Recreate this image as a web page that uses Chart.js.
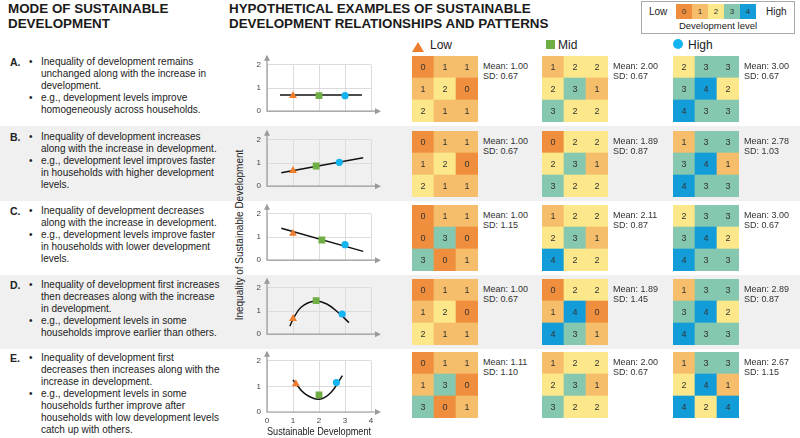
<!DOCTYPE html>
<html>
<head>
<meta charset="utf-8">
<script src="https://cdn.jsdelivr.net/npm/chart.js@4.4.1/dist/chart.umd.min.js"></script>
<style>
  body { margin: 0; width: 800px; height: 438px; position: relative; overflow: hidden; background: #fff;
         font-family: Arial, "Liberation Sans", sans-serif; color: #222; }
  .abs { position: absolute; }
  .band { position: absolute; left: 0; width: 800px; background: #f0f0f0; }
  .title { position: absolute; top: 1px; font-weight: bold; font-size: 13.4px; line-height: 15px; color: #1a1a1a; }
  .desc { position: absolute; font-size: 10px; line-height: 12px; white-space: nowrap; }
  .stat { position: absolute; font-size: 9px; line-height: 10px; color: #333; white-space: nowrap; }
  canvas { position: absolute; }
</style>
</head>
<body>
<div class="band" style="top:126px;height:75px"></div>
<div class="band" style="top:275px;height:74px"></div>

<div class="title" style="left:8px">MODE OF SUSTAINABLE<br>DEVELOPMENT</div>
<div class="title" style="left:229px">HYPOTHETICAL EXAMPLES OF SUSTAINABLE<br>DEVELOPMENT RELATIONSHIPS AND PATTERNS</div>

<div id="legendBox" class="abs" style="left:641px;top:1px;width:152px;height:31px;border:1px solid #aaa;background:#fff"></div>

<div class="abs" style="left:0;top:0" id="holder"></div>

<script>
// development level colours 0..4
var levelColors = ['#ef8f3d', '#f6be6a', '#fce88b', '#86c7af', '#139dd8'];
var orange = '#ef7d2e', green = '#6fae45', blue = '#15b4f0';

var modeLabels = ['A.', 'B.', 'C.', 'D.', 'E.'];
var modeText = [
  [['Inequality of development remains', 'unchanged along with the increase in', 'development.'],
   ['e.g., development levels improve', 'homogeneously across households.']],
  [['Inequality of development increases', 'along with the increase in development.'],
   ['e.g., development level improves faster', 'in households with higher development', 'levels.']],
  [['Inequality of development decreases', 'along with the increase in development.'],
   ['e.g., development levels improve faster', 'in households with lower development', 'levels.']],
  [['Inequality of development first increases', 'then decreases along with the increase', 'in development.'],
   ['e.g., development levels in some', 'households improve earlier than others.']],
  [['Inequality of development first', 'decreases then increases along with the', 'increase in development.'],
   ['e.g., development levels in some', 'households further improve after', 'households with low development levels', 'catch up with others.']]
];

// 3x3 household grids, row-major, top row first
var lowGrids = [
  [0,1,1, 1,2,0, 2,1,1],
  [0,1,1, 1,2,0, 2,1,1],
  [0,1,1, 0,3,0, 3,0,1],
  [0,1,1, 1,2,0, 2,1,1],
  [0,1,1, 1,3,0, 3,0,1]
];
var midGrids = [
  [1,2,2, 2,3,1, 3,2,2],
  [0,2,2, 2,3,1, 3,2,2],
  [1,2,2, 2,3,1, 4,2,2],
  [0,2,2, 1,4,0, 4,3,1],
  [1,2,2, 2,3,1, 3,2,2]
];
var highGrids = [
  [2,3,3, 3,4,2, 4,3,3],
  [1,3,3, 3,4,1, 4,3,3],
  [2,3,3, 3,4,2, 4,3,3],
  [1,3,3, 3,4,2, 4,3,3],
  [1,3,3, 2,4,1, 4,2,4]
];

var lowMean = [1.00, 1.00, 1.00, 1.00, 1.11];
var lowSd = [0.67, 0.67, 1.15, 0.67, 1.10];
var midMean = [2.00, 1.89, 2.11, 1.89, 2.00];
var midSd = [0.67, 0.87, 0.87, 1.45, 0.67];
var highMean = [3.00, 2.78, 3.00, 2.89, 2.67];
var highSd = [0.67, 1.03, 0.67, 0.87, 1.15];

// trend lines
var trendX = [
  [0.5, 3.65],
  [0.55, 3.7],
  [0.55, 3.7],
  [0.88, 1.0, 1.3, 1.8, 2.3, 2.8, 3.15],
  [1.0, 1.45, 2.0, 2.45, 2.9]
];
var trendY = [
  [0.7, 0.7],
  [0.58, 1.23],
  [1.38, 0.38],
  [0.35, 0.64, 1.15, 1.42, 1.3, 0.87, 0.5],
  [1.25, 0.72, 0.5, 0.75, 1.42]
];

var xTicks = [0, 1, 2, 3, 4];
var yTicks = [0, 1, 2];

var rowTops = [56, 131, 205, 279, 352];
var gridLeft = [412, 542, 673];

var holder = document.getElementById('holder');

function addDiv(cls, style, html) {
  var d = document.createElement('div');
  d.className = cls;
  d.setAttribute('style', style);
  d.innerHTML = html;
  holder.appendChild(d);
  return d;
}

// legend box
addDiv('abs', 'left:649px;top:6px;font-size:10px;line-height:12px', 'Low');
addDiv('abs', 'left:766px;top:6px;font-size:10px;line-height:12px', 'High');
levelColors.forEach(function (c, i) {
  addDiv('abs', 'left:' + (676 + i * 16) + 'px;top:4px;width:16px;height:15px;background:' + c +
    ';font-size:8px;line-height:15px;text-align:center;color:#333', String(i));
});
addDiv('abs', 'left:642px;top:20px;width:152px;text-align:center;font-size:9.5px;line-height:12px', 'Development level');

// series headers
addDiv('abs', 'left:412px;top:39px;width:12px;height:11px',
  '<svg width="12" height="11"><polygon points="6,0 12,10 0,10" fill="' + orange + '"/></svg>');
addDiv('abs', 'left:430px;top:38px;font-size:12px;line-height:14px', 'Low');
addDiv('abs', 'left:546px;top:40px;width:9px;height:9px;background:' + green, '');
addDiv('abs', 'left:558px;top:38px;font-size:12px;line-height:14px', 'Mid');
addDiv('abs', 'left:673px;top:39px;width:10px;height:10px;border-radius:50%;background:' + blue, '');
addDiv('abs', 'left:688px;top:38px;font-size:12px;line-height:14px', 'High');

// y title
addDiv('abs', 'left:150px;top:229px;width:180px;text-align:center;font-size:10px;line-height:12px;transform:rotate(-90deg);transform-origin:90px 6px',
  'Inequality of Sustainable Development');

var cellLabels = {
  id: 'cellLabels',
  afterDatasetsDraw: function (chart) {
    var ctx = chart.ctx;
    ctx.save();
    ctx.font = '9px Arial, "Liberation Sans", sans-serif';
    ctx.fillStyle = '#333';
    ctx.textAlign = 'center';
    ctx.textBaseline = 'middle';
    chart.data.datasets.forEach(function (ds, i) {
      chart.getDatasetMeta(i).data.forEach(function (el, j) {
        ctx.fillText(String(ds.levels[j]), el.x, (el.y + el.base) / 2 + 0.5);
      });
    });
    ctx.restore();
  }
};

var arrowAxes = {
  id: 'arrowAxes',
  beforeDatasetsDraw: function (chart) {
    var a = chart.chartArea, ctx = chart.ctx;
    ctx.save();
    ctx.strokeStyle = '#9a9a9a';
    ctx.fillStyle = '#9a9a9a';
    ctx.lineWidth = 1.2;
    ctx.beginPath();
    ctx.moveTo(a.left, a.top - 5);
    ctx.lineTo(a.left, a.bottom);
    ctx.lineTo(a.right + 4, a.bottom);
    ctx.stroke();
    ctx.beginPath();
    ctx.moveTo(a.left, a.top - 10);
    ctx.lineTo(a.left - 3, a.top - 4);
    ctx.lineTo(a.left + 3, a.top - 4);
    ctx.fill();
    ctx.beginPath();
    ctx.moveTo(a.right + 10, a.bottom);
    ctx.lineTo(a.right + 4, a.bottom - 3);
    ctx.lineTo(a.right + 4, a.bottom + 3);
    ctx.fill();
    ctx.restore();
  }
};

function makeCanvas(left, top, w, h) {
  var c = document.createElement('canvas');
  c.width = w; c.height = h;
  c.style.left = left + 'px'; c.style.top = top + 'px';
  c.style.width = w + 'px'; c.style.height = h + 'px';
  holder.appendChild(c);
  return c;
}

function makeGrid(left, top, vals) {
  var c = makeCanvas(left, top, 66, 66);
  var rows = [vals.slice(0, 3), vals.slice(3, 6), vals.slice(6, 9)];
  var datasets = rows.slice().reverse().map(function (r) {
    return {
      data: [1, 1, 1],
      levels: r,
      backgroundColor: r.map(function (v) { return levelColors[v]; }),
      borderWidth: 0,
      barPercentage: 1,
      categoryPercentage: 1
    };
  });
  new Chart(c.getContext('2d'), {
    type: 'bar',
    data: { labels: ['1', '2', '3'], datasets: datasets },
    options: {
      responsive: false,
      animation: false,
      events: [],
      layout: { padding: 0 },
      plugins: { legend: { display: false }, tooltip: { enabled: false } },
      scales: {
        x: { display: false, stacked: true },
        y: { display: false, stacked: true, min: 0, max: 3 }
      }
    },
    plugins: [cellLabels]
  });
}

function makeTrend(r) {
  var last = r === 4;
  var top = rowTops[r] + 8 - 10;
  var c = makeCanvas(250, top, 136, last ? 88 : 68);
  var line = trendX[r].map(function (x, i) { return { x: x, y: trendY[r][i] }; });
  new Chart(c.getContext('2d'), {
    type: 'scatter',
    data: {
      datasets: [
        { data: line, showLine: true, pointRadius: 0, borderColor: '#111', borderWidth: 1.5,
          tension: line.length > 2 ? 0.4 : 0, order: 2 },
        { data: [{ x: lowMean[r], y: lowSd[r] }], pointStyle: 'triangle', pointRadius: 4.6,
          backgroundColor: orange, borderColor: orange, borderWidth: 0, order: 1 },
        { data: [{ x: midMean[r], y: midSd[r] }], pointStyle: 'rect', pointRadius: 4.8,
          backgroundColor: green, borderColor: green, borderWidth: 0, order: 1 },
        { data: [{ x: highMean[r], y: highSd[r] }], pointStyle: 'circle', pointRadius: 3.6,
          backgroundColor: blue, borderColor: blue, borderWidth: 0, order: 1 }
      ]
    },
    options: {
      responsive: false,
      animation: false,
      events: [],
      layout: { padding: { top: 10, right: 15, left: 0, bottom: 0 } },
      plugins: { legend: { display: false }, tooltip: { enabled: false } },
      scales: {
        x: {
          type: 'linear', min: xTicks[0], max: xTicks[xTicks.length - 1],
          afterBuildTicks: function (s) { s.ticks = xTicks.map(function (v) { return { value: v }; }); },
          ticks: { display: last, font: { size: 8 }, color: '#444', padding: 4 },
          grid: { color: '#dcdcdc', drawTicks: false },
          border: { display: false },
          title: { display: last, text: 'Sustainable Development', font: { size: 10 }, color: '#222', padding: { top: 3, bottom: 0 } },
          afterFit: function (s) { s.height = last ? 26 : 6; }
        },
        y: {
          min: yTicks[0], max: yTicks[yTicks.length - 1],
          afterBuildTicks: function (s) { s.ticks = yTicks.map(function (v) { return { value: v }; }); },
          ticks: { font: { size: 8 }, color: '#444', padding: 6 },
          grid: { color: '#dcdcdc', drawTicks: false },
          border: { display: false },
          afterFit: function (s) { s.width = 17; }
        }
      }
    },
    plugins: [arrowAxes]
  });
}

for (var r = 0; r < 5; r++) {
  var t = rowTops[r];
  addDiv('desc', 'left:10px;top:' + t + 'px;font-weight:bold;font-size:10.5px', modeLabels[r]);
  var lines = [];
  modeText[r].forEach(function (b) {
    b.forEach(function (ln, k) {
      lines.push((k === 0 ? '<span style="position:absolute;left:-12px">&bull;</span>' : '') + ln);
    });
  });
  addDiv('desc', 'left:41px;top:' + t + 'px', lines.map(function (l) {
    return '<div style="position:relative">' + l + '</div>';
  }).join(''));

  makeGrid(gridLeft[0], t, lowGrids[r]);
  makeGrid(gridLeft[1], t, midGrids[r]);
  makeGrid(gridLeft[2], t, highGrids[r]);

  var means = [lowMean[r], midMean[r], highMean[r]];
  var sds = [lowSd[r], midSd[r], highSd[r]];
  for (var g = 0; g < 3; g++) {
    addDiv('stat', 'left:' + (gridLeft[g] + 71) + 'px;top:' + (t + 5) + 'px',
      'Mean: ' + means[g].toFixed(2) + '<br>SD: ' + sds[g].toFixed(2));
  }
  makeTrend(r);
}
</script>
</body>
</html>
